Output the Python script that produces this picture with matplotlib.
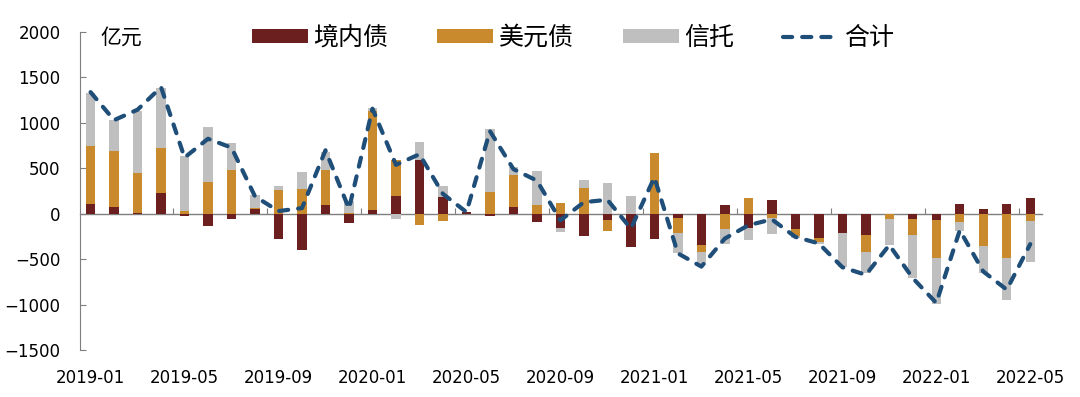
import numpy as np
import pandas as pd
import matplotlib
matplotlib.use("Agg")
import matplotlib.pyplot as plt

plt.rcParams['font.family'] = ['Noto Sans CJK SC', 'DejaVu Sans']

months = list(pd.period_range('2019-01', '2022-05', freq='M').strftime('%Y-%m'))
tick_labels = ['2019-01', '2019-05', '2019-09', '2020-01', '2020-05', '2020-09',
               '2021-01', '2021-05', '2021-09', '2022-01', '2022-05']

domestic = [109, 73, 11, 229, -25, -138, -62, 55, -280, -400, 91, -98, 45, 193, 589, 182,
            15, -29, 73, -95, -160, -244, -73, -371, -273, -47, -345, 91, -153, 156, -171,
            -262, -207, -229, 0, -62, -65, 102, 47, 105, 178]
usd = [640, 622, 440, 491, 25, 349, 484, 10, 258, 273, 385, 10, 1080, 400, -124, -76,
       0, 236, 356, 98, 120, 284, -116, 0, 669, -164, -73, -164, 178, -44, -73, -54,
       0, -189, -62, -174, -426, -91, -353, -491, -80]
trust = [578, 334, 683, 662, 611, 607, 290, 146, 44, 189, 204, 130, 40, -60, 200, 127,
         5, 691, 80, 367, -45, 87, 338, 193, 0, -225, -146, -174, -138, -174, -20, -14,
         -380, -236, -283, -473, -498, -98, -302, -462, -455]
total = [1338, 1030, 1145, 1393, 618, 825, 727, 190, 29, 62, 698, 55, 1156, 538, 655, 218,
         18, 909, 491, 364, -73, 127, 153, -164, 400, -436, -582, -273, -127, -62, -255, -327,
         -589, -673, -345, -709, -982, -182, -636, -836, -335]

series = [('境内债', domestic, '#6B1F1F'),
          ('美元债', usd, '#C98A2E'),
          ('信托', trust, '#BFBFBF')]

fig = plt.figure(figsize=(10.8, 3.97), dpi=100)
ax = fig.add_axes([80/1080, 1-350/397, (1042-80)/1080, (350-32)/397])

x = np.arange(len(months))
pos_base = np.zeros(len(months))
neg_base = np.zeros(len(months))
handles = []
for name, vals, col in series:
    v = np.array(vals, dtype=float)
    b = np.where(v >= 0, pos_base, neg_base)
    h = ax.bar(x, v, bottom=b, width=0.4, color=col, label=name, zorder=2)
    handles.append(h)
    pos_base = pos_base + np.where(v > 0, v, 0)
    neg_base = neg_base + np.where(v < 0, v, 0)

line, = ax.plot(x, total, color='#1F4E79', lw=3.0, dashes=(2.2, 2.4),
                dash_capstyle='round', label='合计', zorder=3)
handles.append(line)

ax.set_xlim(-0.45, 40.5)
ax.set_ylim(-1500, 2000)
ax.set_yticks(np.arange(-1500, 2001, 500))
ax.tick_params(axis='y', direction='in', length=4, width=0.8, color='#7F7F7F',
               pad=14, labelsize=12, labelfontfamily='DejaVu Sans')
for s in ['top', 'right', 'bottom']:
    ax.spines[s].set_visible(False)
ax.spines['left'].set_color('#7F7F7F')
ax.spines['left'].set_linewidth(0.8)

ax.set_xticks(x[::4])
ax.set_xticklabels(tick_labels)
ax.tick_params(axis='x', length=0, pad=14, labelsize=12, labelfontfamily='DejaVu Sans')

sec = ax.secondary_xaxis(1500/3500)
sec.set_xticks(np.arange(3.5, 40, 4))
sec.set_xticklabels([])
sec.tick_params(axis='x', direction='in', length=4, width=0.8, color='#7F7F7F')
sec.spines['bottom'].set_color('#7F7F7F')
sec.spines['bottom'].set_linewidth(1.0)

ax.text(100/1080, 1-38/397, '亿元', transform=fig.transFigure, fontsize=15,
        va='center', ha='left')

leg = fig.legend(handles=handles, labels=[h.get_label() for h in handles],
                 loc='center left', bbox_to_anchor=(252/1080, 1-38/397), ncol=4,
                 frameon=False, fontsize=18, handlelength=2.24, handleheight=0.52,
                 handletextpad=0.22, columnspacing=1.95, borderpad=0, borderaxespad=0)

fig.savefig('out.png', dpi=100)
